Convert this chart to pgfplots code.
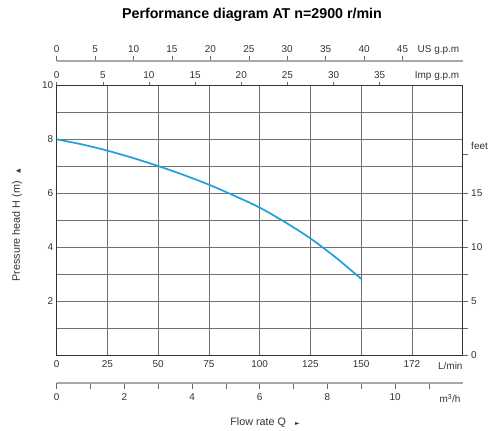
\documentclass[border=0pt]{standalone}
\usepackage{fontspec}
\setmainfont{Liberation Sans}
\newfontfamily\sym{DejaVu Sans}
\usepackage{pgfplots}
\pgfplotsset{compat=1.18}
\definecolor{curvec}{HTML}{1E9FDF}
\definecolor{gridc}{HTML}{707070}
\definecolor{axc}{HTML}{333333}
\definecolor{scalec}{HTML}{A8A8A8}
\definecolor{tickc}{HTML}{666666}
\definecolor{txt}{HTML}{333333}
\newcommand\tfont{\fontsize{10}{11}\selectfont}
\pgfplotsset{
  common/.style={
    scale only axis, width=406bp,
    /pgf/number format/assume math mode=true,
    tick label style={font=\tfont, text=txt},
    clip=false,
  },
}
\begin{document}
\begin{tikzpicture}[x=1bp,y=1bp]
\path[use as bounding box] (0,0) rectangle (495,430);
% main axis (L/min, m)
\begin{axis}[common,
  at={(56.7bp,74.7bp)}, anchor=south west, height=270bp,
  xmin=0, xmax=200, ymin=0, ymax=10,
  xtick={0,25,...,200}, xticklabels={0,25,50,75,100,125,150,172,},
  ytick={0,...,10}, yticklabels={,,2,,4,,6,,8,,10},
  grid=major, major grid style={gridc, line width=0.6bp},
  major tick length=0pt,
  xticklabel style={yshift=-1.5bp},
  axis line style={axc, line width=1bp},
]
\addplot[curvec, line width=1.7bp, smooth] coordinates {
  (0,8.0) (12.5,7.81) (25,7.58) (37.5,7.31) (50,7.01) (62.5,6.68) (75,6.32) (87.5,5.91) (100,5.47) (112.5,4.93) (125,4.33) (137.5,3.62) (150,2.83)};
\node[anchor=north east, font=\tfont, text=txt, inner sep=0pt, yshift=-6.5bp] at (rel axis cs:1,0) {L/min};
\end{axis}
% right feet axis
\begin{axis}[common,
  at={(56.7bp,74.7bp)}, anchor=south west, height=270bp,
  xmin=0, xmax=200, ymin=0, ymax=10,
  hide x axis, axis y line*=right,
  ytick={0,1,2,3,4,5,6,7.45}, yticklabels={0,,5,,10,,15,},
  ytick align=outside, major tick length=5bp,
  tick style={tickc, line width=0.6bp},
  axis line style={axc, line width=1bp},
]
\node[anchor=west, font=\tfont, text=txt, xshift=5bp] at (rel axis cs:1,0.775) {feet};
\end{axis}
% top Imp g.p.m axis (on box top)
\begin{axis}[common,
  at={(56.7bp,344.7bp)}, anchor=north west, height=10bp,
  xmin=0, xmax=43.994, ymin=0, ymax=1,
  hide y axis, axis x line*=top,
  xtick={0,5,...,35},
  xtick align=outside, major tick length=3bp,
  tick style={tickc, line width=0.6bp},
  axis line style={axc, line width=1bp},
]
\node[anchor=base east, font=\tfont, text=txt] at ([yshift=7bp]rel axis cs:1,1) {Imp g.p.m};
\end{axis}
% top US g.p.m axis
\begin{axis}[common,
  at={(56.7bp,369bp)}, anchor=north west, height=10bp,
  xmin=0, xmax=52.834, ymin=0, ymax=1,
  hide y axis, axis x line*=top,
  xtick={0,5,...,45},
  xtick align=outside, major tick length=5bp,
  tick style={tickc, line width=0.6bp},
  axis line style={scalec, line width=1.6bp},
]
\node[anchor=base east, font=\tfont, text=txt] at ([yshift=8.5bp]rel axis cs:1,1) {US g.p.m};
\end{axis}
% bottom m3/h axis
\begin{axis}[common,
  at={(56.7bp,47bp)}, anchor=south west, height=10bp,
  xmin=0, xmax=12, ymin=0, ymax=1,
  hide y axis, axis x line*=bottom,
  xtick={0,...,11}, xticklabels={0,,2,,4,,6,,8,,10,},
  xtick align=outside, major tick length=6bp,
  xticklabel style={yshift=-1.5bp},
  tick style={tickc, line width=0.6bp},
  axis line style={scalec, line width=1.6bp},
]
\node[anchor=north east, font=\tfont, text=txt, inner sep=0pt, yshift=-11bp, xshift=-2bp] at (rel axis cs:1,0) {m\textsuperscript{3}/h};
\end{axis}
% titles and labels
\node[font=\bfseries\fontsize{14.3}{16}\selectfont, text=black] at (252,415) {Performance diagram AT n=2900 r/min};
\node[rotate=90, font=\fontsize{10.8}{12}\selectfont, text=txt] at (17,205) {Pressure head H (m)\hspace{8bp}{\sym\fontsize{6}{7}\selectfont ▲}};
\node[font=\fontsize{10.8}{12}\selectfont, text=txt] at (265,7) {Flow rate Q\hspace{9bp}{\sym\fontsize{6}{7}\selectfont ►}};
\end{tikzpicture}
\end{document}
